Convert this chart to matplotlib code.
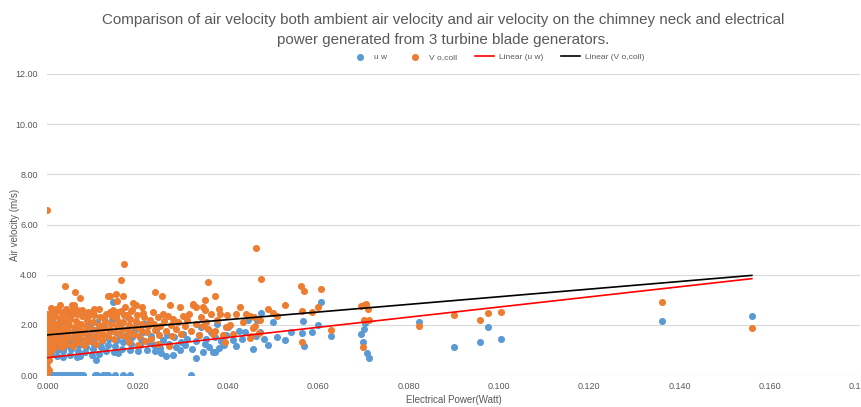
import numpy as np
import matplotlib
matplotlib.use('Agg')
import matplotlib.pyplot as plt
from matplotlib.ticker import FormatStrFormatter, MultipleLocator

plt.rcParams['font.family'] = ['Liberation Sans', 'DejaVu Sans']

# u w (blue) - electrical power (W), air velocity (m/s)
uw_x = [0.0000, 0.0005, 0.0010, 0.0015, 0.0020, 0.0025, 0.0030, 0.0035, 0.0040, 0.0045,
        0.0050, 0.0055, 0.0060, 0.0065, 0.0072, 0.0078, 0.0105, 0.0110, 0.0123, 0.0127,
        0.0134, 0.0150, 0.0167, 0.0183, 0.0318,
        0.0000, 0.0000, 0.0000, 0.0000, 0.0000, 0.0000, 0.0000, 0.0000,
        0.0008, 0.0008, 0.0010, 0.0012, 0.0010, 0.0012,
        0.0020, 0.0022, 0.0020, 0.0025, 0.0022, 0.0028,
        0.0035, 0.0035, 0.0038, 0.0040, 0.0042, 0.0047, 0.0054,
        0.0050, 0.0052, 0.0055, 0.0058, 0.0060,
        0.0065, 0.0068, 0.0070, 0.0072, 0.0075, 0.0079, 0.0078,
        0.0082, 0.0085, 0.0088, 0.0090, 0.0094, 0.0092,
        0.0098, 0.0100, 0.0103, 0.0107, 0.0105, 0.0108, 0.0110,
        0.0115, 0.0118, 0.0120, 0.0122, 0.0125,
        0.0130, 0.0133, 0.0136, 0.0140, 0.0146, 0.0142,
        0.0148, 0.0150, 0.0153, 0.0157, 0.0158, 0.0160,
        0.0165, 0.0168, 0.0172, 0.0175, 0.0178,
        0.0182, 0.0185, 0.0188, 0.0192, 0.0195,
        0.0200, 0.0205, 0.0208, 0.0212, 0.0215,
        0.0220, 0.0225, 0.0230, 0.0236, 0.0238, 0.0240,
        0.0250, 0.0251, 0.0255, 0.0262, 0.0265, 0.0270,
        0.0277, 0.0280, 0.0285, 0.0293, 0.0296, 0.0300,
        0.0305, 0.0310, 0.0320, 0.0328, 0.0330,
        0.0335, 0.0340, 0.0344, 0.0348, 0.0352, 0.0358,
        0.0362, 0.0366, 0.0370, 0.0372, 0.0375, 0.0380,
        0.0385, 0.0390, 0.0395, 0.0400, 0.0410, 0.0418,
        0.0425, 0.0430, 0.0438, 0.0445, 0.0456, 0.0462,
        0.0470, 0.0473, 0.0464, 0.0480, 0.0489, 0.0500, 0.0508,
        0.0526, 0.0540, 0.0566, 0.0563, 0.0568, 0.0585,
        0.0600, 0.0605, 0.0627,
        0.0695, 0.0698, 0.0702, 0.0704, 0.0708, 0.0712,
        0.0823, 0.0900, 0.0958, 0.0975, 0.1004, 0.1360, 0.1560]
uw_y = [0.00, 0.00, 0.00, 0.00, 0.00, 0.00, 0.00, 0.00, 0.00, 0.00,
        0.00, 0.00, 0.00, 0.00, 0.00, 0.00, 0.00, 0.00, 0.00, 0.00,
        0.00, 0.00, 0.00, 0.00, 0.00,
        0.72, 0.95, 1.20, 1.45, 1.70, 1.95, 2.20, 2.40,
        0.85, 1.10, 1.35, 1.60, 1.85, 2.10,
        0.75, 1.00, 1.25, 1.50, 1.80, 2.05,
        0.70, 0.95, 1.15, 1.40, 1.65, 2.44, 2.44,
        0.80, 1.05, 1.30, 1.55, 1.85,
        0.72, 0.95, 1.20, 0.74, 1.45, 2.47, 1.70,
        0.90, 1.10, 1.35, 1.60, 2.47, 1.95,
        0.80, 1.05, 1.25, 0.60, 1.50, 1.80, 2.10,
        0.85, 1.10, 1.35, 1.60, 1.95,
        0.95, 1.20, 1.45, 1.75, 2.93, 2.20,
        0.90, 1.15, 1.40, 0.88, 1.65, 2.00,
        1.05, 1.30, 1.55, 1.85, 2.30,
        1.00, 1.25, 1.50, 1.75, 2.10,
        0.95, 1.20, 1.45, 1.70, 2.05,
        1.00, 1.30, 1.55, 1.20, 0.95, 1.80,
        1.07, 0.88, 1.40, 0.76, 1.60, 1.25,
        0.81, 1.50, 1.10, 1.00, 1.30, 1.65,
        1.20, 1.45, 1.05, 0.69, 1.35,
        1.60, 1.90, 0.90, 1.25, 1.45, 1.10,
        1.70, 0.90, 1.50, 0.92, 2.05, 1.07,
        1.35, 1.20, 1.60, 1.90, 1.40, 1.15,
        1.75, 1.43, 1.73, 2.20, 1.04, 1.55,
        1.73, 2.47, 2.20, 1.45, 1.20, 2.10, 1.53,
        1.40, 1.70, 2.17, 1.66, 1.16, 1.73,
        2.00, 2.93, 1.55,
        1.64, 1.32, 1.84, 2.08, 0.88, 0.68,
        2.12, 1.12, 1.32, 1.92, 1.44, 2.17, 2.37]

# V o,coll (orange)
vo_x = [0.0000, 0.0000, 0.0000, 0.0000, 0.0000, 0.0000, 0.0000, 0.0000, 0.0000, 0.0000, 0.0000, 0.0000,
        0.0004, 0.0004, 0.0005, 0.0005, 0.0006, 0.0006, 0.0007, 0.0007, 0.0007,
        0.0012, 0.0013, 0.0014, 0.0015, 0.0016, 0.0017, 0.0018,
        0.0022, 0.0024, 0.0025, 0.0026, 0.0027, 0.0027, 0.0030,
        0.0033, 0.0035, 0.0036, 0.0037, 0.0039, 0.0038, 0.0040,
        0.0044, 0.0046, 0.0047, 0.0048, 0.0050, 0.0052, 0.0054,
        0.0056, 0.0058, 0.0058, 0.0060, 0.0062, 0.0061, 0.0064, 0.0066,
        0.0068, 0.0070, 0.0072, 0.0072, 0.0074, 0.0076,
        0.0080, 0.0082, 0.0084, 0.0086, 0.0088, 0.0090,
        0.0094, 0.0096, 0.0098, 0.0100, 0.0102, 0.0104,
        0.0108, 0.0110, 0.0112, 0.0114, 0.0116,
        0.0120, 0.0122, 0.0125, 0.0128, 0.0130, 0.0135,
        0.0134, 0.0137, 0.0140, 0.0138, 0.0142, 0.0145,
        0.0148, 0.0150, 0.0152, 0.0153, 0.0155, 0.0157, 0.0153,
        0.0162, 0.0162, 0.0165, 0.0167, 0.0168, 0.0169, 0.0170, 0.0172,
        0.0176, 0.0178, 0.0180, 0.0183, 0.0185, 0.0180,
        0.0190, 0.0190, 0.0193, 0.0195, 0.0197, 0.0198, 0.0200,
        0.0203, 0.0206, 0.0209, 0.0210, 0.0212, 0.0214, 0.0215,
        0.0220, 0.0223, 0.0226, 0.0230, 0.0234, 0.0236, 0.0238, 0.0238,
        0.0244, 0.0247, 0.0250, 0.0253, 0.0255, 0.0258, 0.0245,
        0.0262, 0.0266, 0.0271, 0.0273, 0.0275, 0.0278, 0.0270,
        0.0285, 0.0290, 0.0293, 0.0296, 0.0300,
        0.0305, 0.0310, 0.0313, 0.0318, 0.0322, 0.0323, 0.0328, 0.0330,
        0.0335, 0.0340, 0.0344, 0.0344, 0.0349, 0.0349, 0.0352, 0.0356, 0.0356,
        0.0362, 0.0366, 0.0370, 0.0371, 0.0375, 0.0380, 0.0383, 0.0388, 0.0394, 0.0395, 0.0397,
        0.0405, 0.0410, 0.0418, 0.0426, 0.0432, 0.0439, 0.0448, 0.0448, 0.0450, 0.0455, 0.0457, 0.0459,
        0.0462, 0.0468, 0.0470, 0.0472, 0.0489, 0.0499, 0.0508, 0.0526,
        0.0561, 0.0563, 0.0564, 0.0568, 0.0585, 0.0599, 0.0605, 0.0627,
        0.0695, 0.0698, 0.0700, 0.0702, 0.0705, 0.0710, 0.0712,
        0.0823, 0.0900, 0.0958, 0.0975, 0.1004, 0.1360, 0.1560,
        0.0003, 0.0010, 0.0019, 0.0029, 0.0041, 0.0053, 0.0065, 0.0077, 0.0089,
        0.0101, 0.0113, 0.0126, 0.0139, 0.0151, 0.0163, 0.0175, 0.0187]
vo_y = [0.10, 0.30, 0.50, 0.75, 1.00, 1.25, 1.50, 1.75, 2.00, 2.25, 2.45, 6.58,
        0.20, 0.60, 0.90, 1.15, 1.40, 1.65, 1.90, 2.15, 2.67,
        1.05, 1.30, 1.55, 1.80, 2.05, 2.35, 2.60,
        1.20, 1.45, 1.70, 1.95, 2.20, 2.80, 2.50,
        1.10, 1.35, 1.60, 1.85, 3.56, 2.10, 2.40,
        1.25, 1.50, 1.75, 2.00, 2.25, 2.55, 2.80,
        1.15, 2.80, 1.40, 1.65, 1.90, 3.32, 2.15, 2.45,
        1.30, 1.55, 3.06, 1.80, 2.05, 2.35,
        1.20, 1.45, 1.70, 1.95, 2.20, 2.50,
        1.35, 1.60, 1.85, 2.10, 2.40, 2.65,
        1.25, 1.50, 1.75, 2.00, 2.30,
        1.40, 1.65, 1.90, 2.15, 2.45, 3.16,
        1.55, 1.80, 2.05, 3.14, 2.35, 2.60,
        1.45, 1.70, 3.24, 1.95, 2.20, 2.50, 2.97,
        3.77, 1.60, 1.85, 3.13, 2.10, 4.44, 2.40, 2.70,
        1.50, 1.75, 2.00, 2.25, 2.55, 1.30,
        2.87, 1.65, 1.90, 2.15, 2.80, 2.40, 1.20,
        1.55, 1.80, 2.73, 2.05, 2.47, 2.30, 1.35,
        1.70, 1.95, 2.20, 1.45, 2.53, 2.05, 3.29, 1.80,
        2.30, 1.60, 1.95, 3.13, 2.45, 2.15, 1.25,
        1.75, 2.35, 2.80, 2.00, 1.55, 2.25, 1.15,
        1.85, 2.10, 2.73, 1.65, 2.35,
        1.95, 2.20, 2.44, 1.75, 2.85, 2.80, 2.70, 2.05,
        1.60, 2.30, 2.72, 1.95, 2.60, 3.00, 2.10, 3.69, 1.85,
        2.45, 1.65, 1.75, 3.16, 2.20, 2.65, 2.45, 1.60, 1.33, 1.90, 2.40,
        2.00, 1.64, 2.43, 2.72, 2.10, 2.44, 2.37, 1.47, 1.55, 1.87, 2.30, 1.95,
        5.07, 1.67, 2.20, 3.83, 2.64, 2.47, 2.36, 2.80,
        3.56, 2.56, 1.33, 3.36, 2.52, 2.71, 3.43, 1.80,
        2.75, 1.12, 2.80, 2.20, 2.85, 2.65, 2.20,
        1.96, 2.40, 2.20, 2.47, 2.50, 2.93, 1.88,
        2.30, 2.50, 2.62, 2.28, 2.62, 2.38, 2.58, 2.60, 2.35,
        2.55, 2.62, 2.30, 2.50, 2.35, 2.55, 2.38, 2.60]

# linear trendlines (slope, intercept)
trend_uw = (20.2, 0.69)
trend_vo = (15.2, 1.60)

blue = '#5B9BD5'
orange = '#ED7D31'
grey = '#595959'

fig = plt.figure(figsize=(8.62, 4.07), dpi=100)
ax = fig.add_axes([0.0551, 0.0786, 0.9428, 0.7396])

ax.scatter(uw_x, uw_y, s=26, color=blue, linewidths=0, label='u w', zorder=3)
ax.scatter(vo_x, vo_y, s=26, color=orange, linewidths=0, label='V o,coll', zorder=4)

xmax = max(max(uw_x), max(vo_x))
xt = np.array([0.0, xmax])
ax.plot(xt, trend_uw[0] * xt + trend_uw[1], color='#FF0000', lw=1.2, label='Linear (u w)', zorder=5)
ax.plot(xt, trend_vo[0] * xt + trend_vo[1], color='black', lw=1.2, label='Linear (V o,coll)', zorder=6)

ax.set_xlim(0, 0.18)
ax.set_ylim(0, 12)
ax.xaxis.set_major_locator(MultipleLocator(0.02))
ax.yaxis.set_major_locator(MultipleLocator(2))
ax.xaxis.set_major_formatter(FormatStrFormatter('%.3f'))
ax.yaxis.set_major_formatter(FormatStrFormatter('%.2f'))
ax.tick_params(length=0, labelsize=6.5, colors=grey)
ax.tick_params(axis='x', pad=5)
ax.tick_params(axis='y', pad=7)
ax.grid(axis='y', color='#D9D9D9', lw=0.8, zorder=0)
for s in ax.spines.values():
    s.set_visible(False)
ax.axhline(0, color='#D9D9D9', lw=0.8, zorder=1)

ax.set_xlabel('Electrical Power(Watt)', fontsize=7, color=grey, labelpad=3)
ax.set_ylabel('Air velocity (m/s)', fontsize=7, color=grey)
ax.yaxis.set_label_coords(-0.034, 0.5)

fig.text(0.514, 0.968, 'Comparison of air velocity both ambient air velocity and air velocity on the chimney neck and electrical\n'
         'power generated from 3 turbine blade generators.',
         ha='center', va='top', fontsize=10.9, color=grey, linespacing=1.5)

ax.legend(loc='center', bbox_to_anchor=(0.577, 0.86), bbox_transform=fig.transFigure,
          ncol=4, frameon=False, fontsize=6, labelcolor=grey, scatterpoints=1,
          handlelength=2.2, columnspacing=2.2, handletextpad=0.6)

fig.savefig('out.png', dpi=100)
